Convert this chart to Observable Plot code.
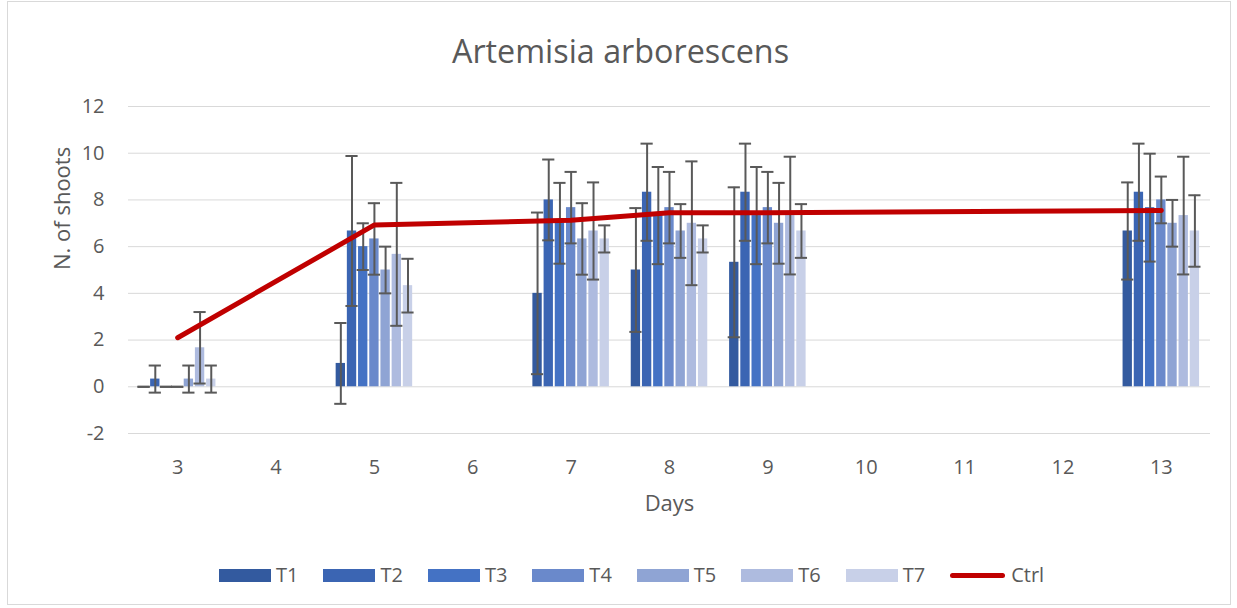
<!DOCTYPE html>
<html>
<head>
<meta charset="utf-8">
<script src="https://cdn.jsdelivr.net/npm/d3@7"></script>
<script src="https://cdn.jsdelivr.net/npm/@observablehq/plot@0.6"></script>
<style>
  html, body { margin: 0; padding: 0; background: #fff; }
  #page { position: relative; width: 1237px; height: 608px; overflow: hidden; font-family: "Open Sans", sans-serif; color: #595959; }
  #border { position: absolute; left: 7px; top: 1px; width: 1224px; height: 604px; border: 1px solid #d9d9d9; box-sizing: border-box; }
  #title { position: absolute; left: 2px; top: 30px; width: 1237px; height: 40px; line-height: 40px; text-align: center; font-size: 32.3px; }
  #chart { position: absolute; left: 0; top: 85px; }
  #legend { position: absolute; left: 219px; top: 563px; height: 24px; display: flex; align-items: center; font-size: 20px; line-height: 24px; }
  .item { display: flex; align-items: center; margin-right: 25px; }
  .sw { width: 52px; height: 13px; margin-right: 5px; }
  .ln { width: 55px; height: 5px; border-radius: 3px; background: #c00000; margin-right: 6px; }
</style>
</head>
<body>
<div id="page">
  <div id="border"></div>
  <div id="title">Artemisia arborescens</div>
  <div id="chart"></div>
  <div id="legend"></div>
</div>
<script>
// Category axis
const days = ["3", "4", "5", "6", "7", "8", "9", "10", "11", "12", "13"];
const yTicks = [-2, 0, 2, 4, 6, 8, 10, 12];
// Days that have observations
const obsDays = ["3", "5", "7", "8", "9", "13"];
const treatments = ["T1", "T2", "T3", "T4", "T5", "T6", "T7"];
const colors = ["#335a9f", "#3b65b3", "#4472c4", "#6a89cb", "#8fa4d4", "#aebbdf", "#c8d0e8"];

// Means and error (SD) per treatment, in obsDays order
const T1 = [0, 1, 4, 5, 5.33, 6.67];
const T1err = [0, 1.73, 3.46, 2.65, 3.21, 2.08];
const T2 = [0.33, 6.67, 8, 8.33, 8.33, 8.33];
const T2err = [0.58, 3.21, 1.73, 2.08, 2.08, 2.08];
const T3 = [0, 6, 7, 7.33, 7.33, 7.67];
const T3err = [0, 1, 1.73, 2.08, 2.08, 2.31];
const T4 = [0, 6.33, 7.67, 7.67, 7.67, 8];
const T4err = [0, 1.53, 1.53, 1.53, 1.53, 1];
const T5 = [0.33, 5, 6.33, 6.67, 7, 7];
const T5err = [0.58, 1, 1.53, 1.15, 1.73, 1];
const T6 = [1.67, 5.67, 6.67, 7, 7.33, 7.33];
const T6err = [1.53, 3.06, 2.08, 2.65, 2.52, 2.52];
const T7 = [0.33, 4.33, 6.33, 6.33, 6.67, 6.67];
const T7err = [0.58, 1.15, 0.58, 0.58, 1.15, 1.53];
const Ctrl = [2.1, 6.93, 7.13, 7.45, 7.45, 7.55];

const series = [T1, T2, T3, T4, T5, T6, T7];
const errs = [T1err, T2err, T3err, T4err, T5err, T6err, T7err];

// Clustered layout (fractions of a category band)
const step = 0.1138, barW = 0.095, capHalf = 0.062;

const rows = [];
treatments.forEach((t, k) => {
  obsDays.forEach((d, j) => {
    const di = days.indexOf(d);
    const cx = di + (k - 3) * step;
    rows.push({day: d, t, cx, v: series[k][j], e: errs[k][j]});
  });
});
const ctrlRows = obsDays.map((d, j) => ({di: days.indexOf(d), v: Ctrl[j]}));

const chart = Plot.plot({
  width: 1237,
  height: 440,
  marginTop: 21,
  marginBottom: 92,
  marginLeft: 128,
  marginRight: 27,
  style: {fontFamily: "Open Sans, sans-serif", fontSize: "20px", color: "#595959", background: "transparent", overflow: "visible"},
  x: {type: "linear", domain: [-0.5, days.length - 0.5]},
  y: {domain: [-2, 12]},
  color: {domain: treatments, range: colors},
  marks: [
    Plot.gridY(yTicks, {stroke: "#d9d9d9", strokeOpacity: 1, strokeWidth: 1}),
    Plot.axisY({ticks: yTicks, tickFormat: d => String(d), tickSize: 0, tickPadding: 24, label: null}),
    Plot.axisX({ticks: d3.range(days.length), tickFormat: i => days[i], tickSize: 0, tickPadding: 26, label: null}),
    Plot.rectY(rows, {x1: d => d.cx - barW / 2, x2: d => d.cx + barW / 2, y: "v", fill: "t"}),
    Plot.ruleX(rows, {x: "cx", y1: d => d.v - d.e, y2: d => d.v + d.e, stroke: "#595959", strokeWidth: 2}),
    Plot.ruleY(rows, {y: d => d.v + d.e, x1: d => d.cx - capHalf, x2: d => d.cx + capHalf, stroke: "#595959", strokeWidth: 2}),
    Plot.ruleY(rows, {y: d => d.v - d.e, x1: d => d.cx - capHalf, x2: d => d.cx + capHalf, stroke: "#595959", strokeWidth: 2}),
    Plot.line(ctrlRows, {x: "di", y: "v", stroke: "#c00000", strokeWidth: 5, strokeLinecap: "round", strokeLinejoin: "round"}),
    Plot.text(["Days"], {text: d => d, frameAnchor: "bottom", dy: 70, lineAnchor: "middle", fontSize: 22, fill: "#595959"}),
    Plot.text(["N. of shoots"], {text: d => d, frameAnchor: "left", dx: -66, rotate: -90, lineAnchor: "middle", fontSize: 22, fill: "#595959"})
  ]
});
document.getElementById("chart").appendChild(chart);

// Legend
const legend = document.getElementById("legend");
treatments.forEach((t, k) => {
  const it = document.createElement("div");
  it.className = "item";
  it.innerHTML = `<div class="sw" style="background:${colors[k]}"></div><span>${t}</span>`;
  legend.appendChild(it);
});
const c = document.createElement("div");
c.className = "item";
c.innerHTML = `<div class="ln"></div><span>Ctrl</span>`;
legend.appendChild(c);
</script>
</body>
</html>
